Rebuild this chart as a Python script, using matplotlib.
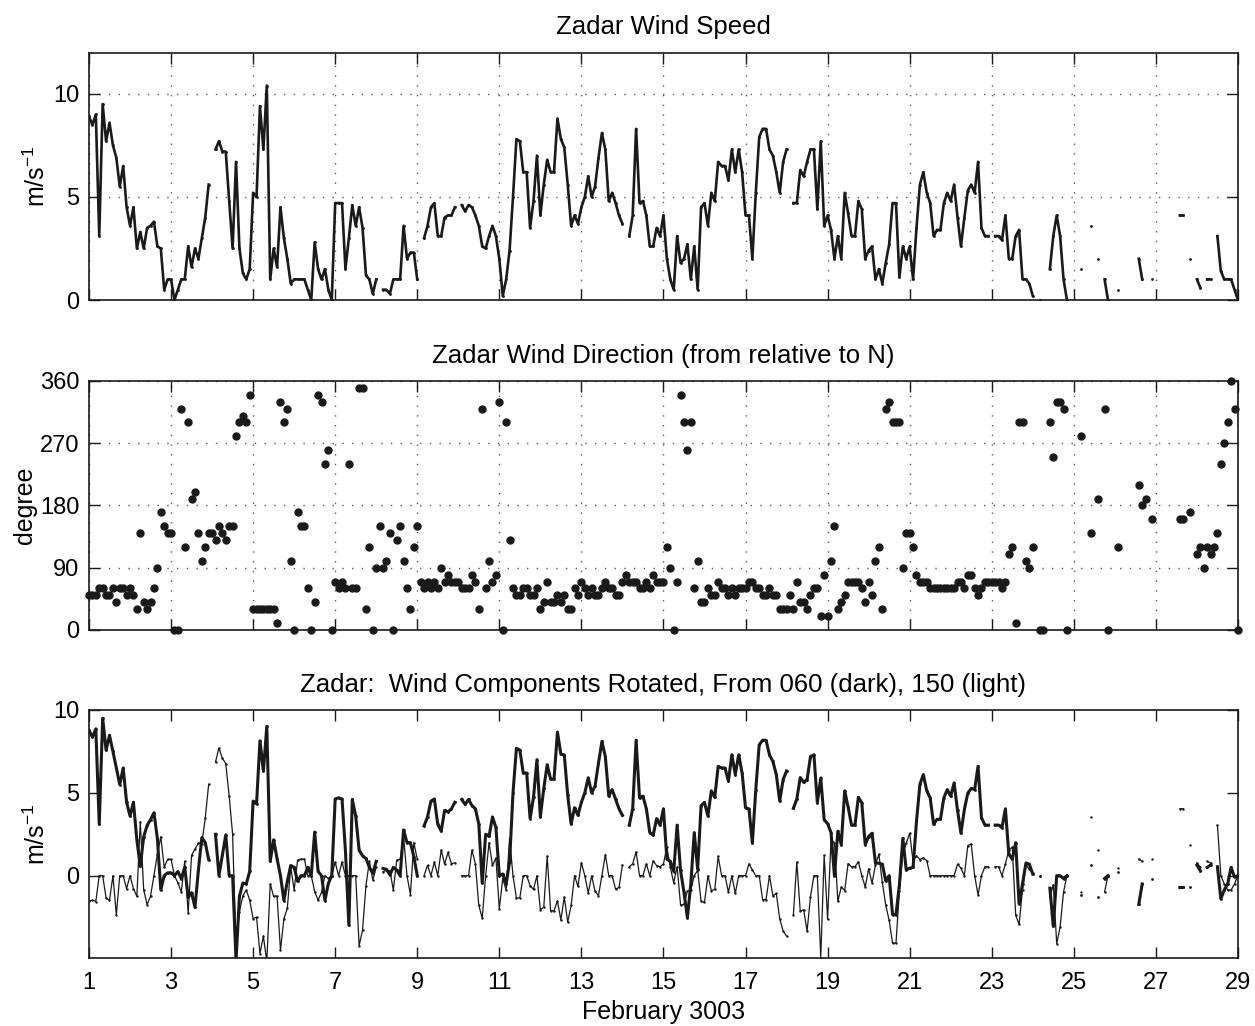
import numpy as np
import matplotlib
matplotlib.use('Agg')
from matplotlib import pyplot as plt

nan = np.nan

# Zadar wind speed, m/s, one value every 2 h from 1 Feb 00h (12 values / day)
speed = [
    8.9, 8.5, 9.0, 3.1, 9.5, 7.7, 8.6, 7.5, 6.9, 5.5, 6.5, 4.5,      # 1
    3.6, 4.5, 2.5, 3.3, 2.5, 3.5, 3.6, 3.8, 2.6, 2.5, 0.5, 1.0,      # 2
    1.0, 0.0, 0.5, 1.0, 1.0, 2.6, 1.6, 2.5, 2.0, 3.0, 4.0, 5.6,      # 3
    nan, 7.3, 7.7, 7.2, 7.2, 4.8, 2.5, 6.7, 2.5, 1.3, 1.0, 1.5,      # 4
    5.2, 5.0, 9.4, 7.3, 10.4, 1.0, 2.5, 1.6, 4.5, 3.0, 2.0, 0.8,     # 5
    1.0, 1.0, 1.0, 1.0, 0.5, 0.0, 2.8, 1.5, 1.0, 1.5, 0.5, 0.0,      # 6
    4.7, 4.7, 4.7, 1.5, 3.0, 4.6, 3.6, 4.5, 3.5, 1.2, 1.0, 0.3,      # 7
    1.0, nan, 0.5, 0.5, 0.3, 1.0, 1.0, 1.0, 3.6, 2.0, 2.3, 2.3,      # 8
    1.0, nan, 3.0, 3.6, 4.5, 4.7, 3.1, 3.1, 4.0, 4.1, 4.1, 4.5,      # 9
    nan, 4.6, 4.3, 4.6, 4.5, 4.1, 3.6, 2.6, 2.5, 3.1, 3.6, 3.1,      # 10
    2.0, 0.2, 1.0, 2.4, 5.0, 7.8, 7.7, 6.2, 6.2, 3.5, 4.8, 7.0,      # 11
    4.1, 5.6, 6.8, 6.2, 6.2, 8.8, 7.8, 7.4, 5.6, 3.6, 4.1, 3.7,      # 12
    4.5, 5.0, 6.0, 5.0, 5.5, 6.9, 8.1, 7.3, 4.8, 5.2, 4.7, 4.1,      # 13
    3.7, nan, 3.1, 4.1, 8.3, 4.7, 4.8, 4.1, 2.6, 2.6, 3.5, 3.1,      # 14
    4.1, 2.0, 1.0, 0.5, 3.1, 1.8, 2.0, 2.7, 1.0, 2.6, 0.5, 4.5,      # 15
    4.7, 3.6, 5.2, 4.8, 6.7, 6.5, 6.5, 5.8, 7.3, 6.2, 7.3, 6.2,      # 16
    4.1, 4.1, 2.0, 5.2, 7.9, 8.3, 8.3, 7.3, 7.0, 6.2, 5.2, 6.7,      # 17
    7.3, nan, 4.7, 4.7, 6.3, 6.0, 6.7, 7.3, 7.3, 4.4, 7.7, 3.6,      # 18
    4.1, 3.4, 2.0, 3.1, 2.0, 5.2, 4.2, 3.1, 3.1, 4.8, 4.4, 2.0,      # 19
    2.4, 2.6, 1.0, 1.5, 0.8, 1.8, 2.7, 4.7, 4.7, 1.1, 2.6, 2.0,      # 20
    2.6, 1.0, 3.5, 5.6, 6.2, 5.2, 4.7, 3.1, 3.4, 3.4, 4.7, 5.2,      # 21
    4.8, 5.6, 4.0, 2.6, 4.0, 5.3, 5.6, 5.2, 6.7, 3.5, 3.1, 3.1,      # 22
    nan, 3.1, 3.1, 2.9, 4.1, 2.0, 2.0, 3.1, 3.4, 1.0, 1.0, 0.8,      # 23
    0.2, nan, 0.0, nan, nan, 1.5, 3.1, 4.1, 3.1, 1.0, 0.0, nan,      # 24
    nan, nan, 1.5, nan, nan, 3.6, nan, 2.0, nan, 1.0, 0.0, nan,      # 25
    nan, 0.5, nan, nan, nan, nan, nan, 2.0, 1.0, nan, nan, 1.0,      # 26
    nan, nan, nan, nan, nan, nan, nan, 4.1, 4.1, nan, 2.0, nan,      # 27
    1.0, 0.6, nan, 1.0, 1.0, nan, 3.1, 1.4, 1.0, 1.0, 1.0, 0.5,      # 28
    0.0,
]

# direction the wind blows from, degrees from N, same times
direction = [
    50, 50, 50, 60, 60, 50, 50, 60, 40, 60, 60, 50,                  # 1
    60, 50, 30, 140, 40, 30, 40, 60, 90, 170, 150, 140,              # 2
    140, 0, 0, 320, 120, 300, 190, 200, 140, 100, 120, 140,          # 3
    140, 130, 150, 140, 130, 150, 150, 280, 300, 310, 300, 340,      # 4
    30, 30, 30, 30, 30, 30, 30, 10, 330, 300, 320, 100,              # 5
    0, 170, 150, 150, 60, 0, 40, 340, 330, 240, 260, 0,              # 6
    70, 60, 70, 60, 240, 60, 60, 350, 350, 30, 120, 0,               # 7
    90, 150, 90, 100, 140, 0, 130, 150, 100, 60, 30, 120,            # 8
    150, 70, 60, 70, 60, 70, 60, 90, 70, 80, 70, 70,                 # 9
    70, 60, 60, 60, 80, 70, 30, 320, 60, 100, 70, 80,                # 10
    330, 0, 300, 130, 60, 50, 50, 60, 60, 50, 50, 60,                # 11
    30, 40, 70, 40, 40, 50, 40, 50, 30, 30, 60, 50,                  # 12
    70, 60, 50, 60, 50, 50, 60, 70, 60, 60, 50, 50,                  # 13
    70, 80, 70, 70, 70, 60, 60, 70, 60, 80, 70, 70,                  # 14
    70, 120, 90, 0, 70, 340, 300, 260, 300, 60, 100, 40,             # 15
    40, 60, 50, 50, 70, 60, 60, 50, 60, 50, 60, 60,                  # 16
    60, 70, 70, 60, 60, 50, 50, 60, 50, 50, 30, 30,                  # 17
    30, 50, 30, 70, 40, 40, 30, 50, 60, 60, 20, 80,                  # 18
    20, 100, 150, 30, 40, 50, 70, 70, 70, 70, 60, 40,                # 19
    70, 50, 100, 120, 30, 320, 330, 300, 300, 300, 90, 140,          # 20
    140, 120, 80, 70, 70, 70, 60, 60, 60, 60, 60, 60,                # 21
    60, 60, 70, 70, 60, 80, 80, 60, 50, 60, 70, 70,                  # 22
    70, 70, 70, 60, 70, 110, 120, 10, 300, 300, 100, 90,             # 23
    120, nan, 0, 0, nan, 300, 250, 330, 330, 320, 0, nan,            # 24
    nan, nan, 280, nan, nan, 140, nan, 190, nan, 320, 0, nan,        # 25
    nan, 120, nan, nan, nan, nan, nan, 210, 180, 190, nan, 160,      # 26
    nan, nan, nan, nan, nan, nan, nan, 160, 160, nan, 170, nan,      # 27
    110, 120, 90, 120, 110, 120, 140, 240, 270, 300, 360, 320,       # 28
    0,
]

day_ticks = list(range(1, 30, 2))
axis_dark = 60     # rotation for the dark component
axis_light = 150   # rotation for the light component

plt.rcParams['font.family'] = ['Liberation Sans', 'DejaVu Sans']
plt.rcParams['font.size'] = 18
plt.rcParams['mathtext.fontset'] = 'custom'
plt.rcParams['mathtext.rm'] = 'Liberation Sans'
plt.rcParams['mathtext.it'] = 'Liberation Sans:italic'

ink = '#1a1a1a'
tick_fs = 17
title_fs = 18.5

spd = np.array(speed, dtype=float)
dirn = np.array(direction, dtype=float)
t = 1 + np.arange(len(spd)) / 12.0

dark = spd * np.cos(np.deg2rad(dirn - axis_dark))
light = spd * np.cos(np.deg2rad(dirn - axis_light))

fig = plt.figure(figsize=(12.55, 10.26), dpi=100)
left, width = 0.0709, 0.9155
ax1 = fig.add_axes([left, 0.7076, width, 0.2412])
ax2 = fig.add_axes([left, 0.3860, width, 0.2427])
ax3 = fig.add_axes([left, 0.0658, width, 0.2422])


def style(ax):
    ax.set_xlim(1, 29)
    ax.set_xticks(day_ticks)
    ax.tick_params(direction='in', length=8, width=1, top=True, right=True,
                   colors=ink, labelcolor='k', labelsize=tick_fs)
    ax.tick_params(axis='y', pad=7)
    ax.tick_params(axis='x', pad=10)
    for s in ax.spines.values():
        s.set_linewidth(1.2)
        s.set_color(ink)


# speed
ax1.plot(t, spd, color=ink, lw=1.9, marker='.', ms=2)
style(ax1)
ax1.set_ylim(0, 12)
ax1.set_yticks([0, 5, 10])
ax1.set_xticklabels([])
ax1.grid(True, color='0.35', linestyle=(0, (1, 6)), linewidth=1)
ax1.set_ylabel('m/s$^{-1}$', labelpad=2)
ax1.set_title('Zadar Wind Speed', pad=13, fontsize=title_fs)

# direction
ax2.plot(t, dirn, 'o', color=ink, ms=5, clip_on=False)
style(ax2)
ax2.set_ylim(0, 360)
ax2.set_yticks([0, 90, 180, 270, 360])
ax2.set_xticklabels([])
ax2.grid(True, color='0.35', linestyle=(0, (1, 6)), linewidth=1)
ax2.set_ylabel('degree', labelpad=2)
ax2.set_title('Zadar Wind Direction (from relative to N)', pad=13,
              fontsize=title_fs)

# rotated components
ax3.plot(t, light, color=ink, lw=0.9, marker='.', ms=1.5)
ax3.plot(t, dark, color=ink, lw=2.2, marker='.', ms=2)
style(ax3)
ax3.set_ylim(-5, 10)
ax3.set_yticks([0, 5, 10])
ax3.set_ylabel('m/s$^{-1}$', labelpad=2)
ax3.set_xlabel('February 3003', labelpad=4)
ax3.set_title('Zadar:  Wind Components Rotated, From 060 (dark), 150 (light)',
              pad=13, fontsize=title_fs)

fig.savefig('out.png', dpi=100)
